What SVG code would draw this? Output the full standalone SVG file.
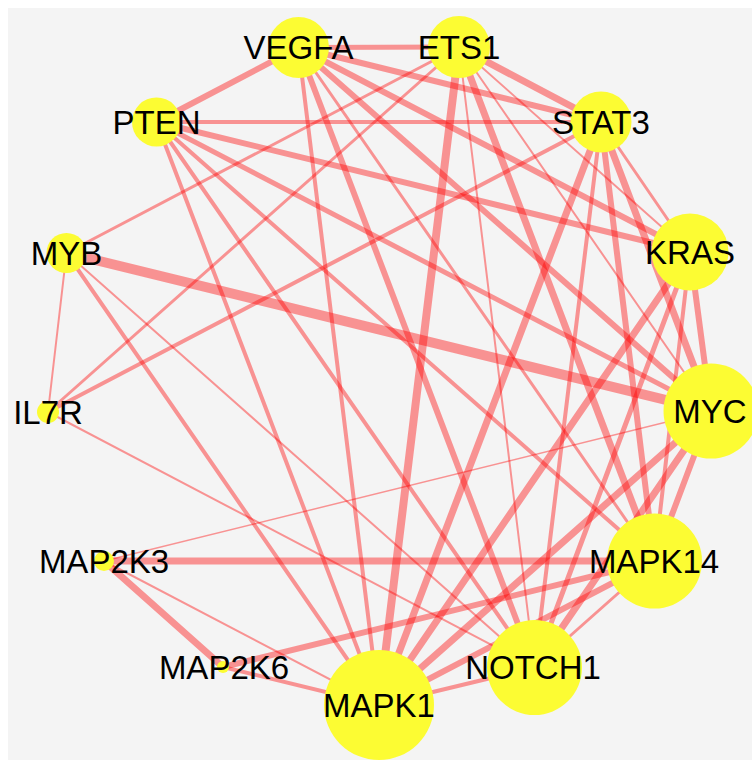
<svg xmlns="http://www.w3.org/2000/svg" width="752" height="760" viewBox="0 0 752 760">
<style>
.bg{fill:#f4f4f4}
.e{stroke:#ff0000;stroke-opacity:0.4;stroke-linecap:round;fill:none}
.n circle{fill:#fcfc33}
.n text{font-family:"Liberation Sans",Arial,sans-serif;font-size:33px;fill:#000;text-anchor:middle}
</style>
<rect x="0" y="0" width="752" height="760" fill="#ffffff"/>
<rect class="bg" x="8" y="8" width="744" height="752"/>
<g id="edges">
<line class="e" x1="298.5" y1="47.5" x2="459" y2="47" stroke-width="5"/>
<line class="e" x1="298.5" y1="47.5" x2="156.5" y2="122" stroke-width="6"/>
<line class="e" x1="298.5" y1="47.5" x2="601" y2="122" stroke-width="6"/>
<line class="e" x1="298.5" y1="47.5" x2="690" y2="252" stroke-width="6"/>
<line class="e" x1="298.5" y1="47.5" x2="711" y2="411" stroke-width="6"/>
<line class="e" x1="298.5" y1="47.5" x2="654.5" y2="561" stroke-width="3"/>
<line class="e" x1="298.5" y1="47.5" x2="534.5" y2="667.5" stroke-width="6"/>
<line class="e" x1="298.5" y1="47.5" x2="379" y2="705" stroke-width="4"/>
<line class="e" x1="459" y1="47" x2="601" y2="122" stroke-width="7"/>
<line class="e" x1="459" y1="47" x2="379" y2="705" stroke-width="8"/>
<line class="e" x1="459" y1="47" x2="654.5" y2="561" stroke-width="7"/>
<line class="e" x1="459" y1="47" x2="534.5" y2="667.5" stroke-width="2"/>
<line class="e" x1="459" y1="47" x2="690" y2="252" stroke-width="2"/>
<line class="e" x1="459" y1="47" x2="711" y2="411" stroke-width="2"/>
<line class="e" x1="459" y1="47" x2="66.5" y2="253" stroke-width="3"/>
<line class="e" x1="459" y1="47" x2="48" y2="412" stroke-width="3"/>
<line class="e" x1="156.5" y1="122" x2="601" y2="122" stroke-width="4"/>
<line class="e" x1="156.5" y1="122" x2="690" y2="252" stroke-width="6"/>
<line class="e" x1="156.5" y1="122" x2="711" y2="411" stroke-width="5"/>
<line class="e" x1="156.5" y1="122" x2="654.5" y2="561" stroke-width="4"/>
<line class="e" x1="156.5" y1="122" x2="534.5" y2="667.5" stroke-width="4"/>
<line class="e" x1="156.5" y1="122" x2="379" y2="705" stroke-width="4"/>
<line class="e" x1="601" y1="122" x2="48" y2="412" stroke-width="4"/>
<line class="e" x1="601" y1="122" x2="690" y2="252" stroke-width="3"/>
<line class="e" x1="601" y1="122" x2="711" y2="411" stroke-width="7"/>
<line class="e" x1="601" y1="122" x2="654.5" y2="561" stroke-width="6"/>
<line class="e" x1="601" y1="122" x2="534.5" y2="667.5" stroke-width="4"/>
<line class="e" x1="601" y1="122" x2="379" y2="705" stroke-width="7"/>
<line class="e" x1="690" y1="252" x2="711" y2="411" stroke-width="6"/>
<line class="e" x1="690" y1="252" x2="654.5" y2="561" stroke-width="4"/>
<line class="e" x1="690" y1="252" x2="534.5" y2="667.5" stroke-width="5"/>
<line class="e" x1="690" y1="252" x2="379" y2="705" stroke-width="7"/>
<line class="e" x1="711" y1="411" x2="66.5" y2="253" stroke-width="10"/>
<line class="e" x1="711" y1="411" x2="104" y2="561" stroke-width="1.5"/>
<line class="e" x1="711" y1="411" x2="654.5" y2="561" stroke-width="6"/>
<line class="e" x1="711" y1="411" x2="534.5" y2="667.5" stroke-width="7"/>
<line class="e" x1="711" y1="411" x2="379" y2="705" stroke-width="7"/>
<line class="e" x1="654.5" y1="561" x2="104" y2="561" stroke-width="7"/>
<line class="e" x1="654.5" y1="561" x2="223" y2="667" stroke-width="6"/>
<line class="e" x1="654.5" y1="561" x2="534.5" y2="667.5" stroke-width="3"/>
<line class="e" x1="654.5" y1="561" x2="379" y2="705" stroke-width="6"/>
<line class="e" x1="534.5" y1="667.5" x2="379" y2="705" stroke-width="4"/>
<line class="e" x1="534.5" y1="667.5" x2="66.5" y2="253" stroke-width="2"/>
<line class="e" x1="534.5" y1="667.5" x2="48" y2="412" stroke-width="2"/>
<line class="e" x1="379" y1="705" x2="66.5" y2="253" stroke-width="4"/>
<line class="e" x1="379" y1="705" x2="104" y2="561" stroke-width="2"/>
<line class="e" x1="379" y1="705" x2="223" y2="667" stroke-width="4"/>
<line class="e" x1="104" y1="561" x2="223" y2="667" stroke-width="7"/>
<line class="e" x1="66.5" y1="253" x2="48" y2="412" stroke-width="2"/>
</g>
<g id="VEGFA" class="n"><circle cx="298.5" cy="47.5" r="30.5"/><text x="298.5" y="59">VEGFA</text></g>
<g id="ETS1" class="n"><circle cx="459" cy="47" r="31"/><text x="459" y="59">ETS1</text></g>
<g id="STAT3" class="n"><circle cx="601" cy="122" r="30.5"/><text x="601" y="134">STAT3</text></g>
<g id="KRAS" class="n"><circle cx="690" cy="252" r="38.5"/><text x="690" y="264">KRAS</text></g>
<g id="MYC" class="n"><circle cx="711" cy="411" r="47.5"/><text x="710" y="423">MYC</text></g>
<g id="MAPK14" class="n"><circle cx="654.5" cy="561" r="47.5"/><text x="654" y="573">MAPK14</text></g>
<g id="NOTCH1" class="n"><circle cx="534.5" cy="667.5" r="47.5"/><text x="533" y="679">NOTCH1</text></g>
<g id="MAPK1" class="n"><circle cx="379" cy="705" r="55"/><text x="379" y="717">MAPK1</text></g>
<g id="MAP2K6" class="n"><circle cx="223" cy="667" r="6"/><text x="224" y="679">MAP2K6</text></g>
<g id="MAP2K3" class="n"><circle cx="104" cy="561" r="10"/><text x="104" y="573">MAP2K3</text></g>
<g id="IL7R" class="n"><circle cx="48" cy="412" r="11"/><text x="48" y="424">IL7R</text></g>
<g id="MYB" class="n"><circle cx="66.5" cy="253" r="20"/><text x="66.5" y="265">MYB</text></g>
<g id="PTEN" class="n"><circle cx="156.5" cy="122" r="24.5"/><text x="156.5" y="134">PTEN</text></g>
</svg>
